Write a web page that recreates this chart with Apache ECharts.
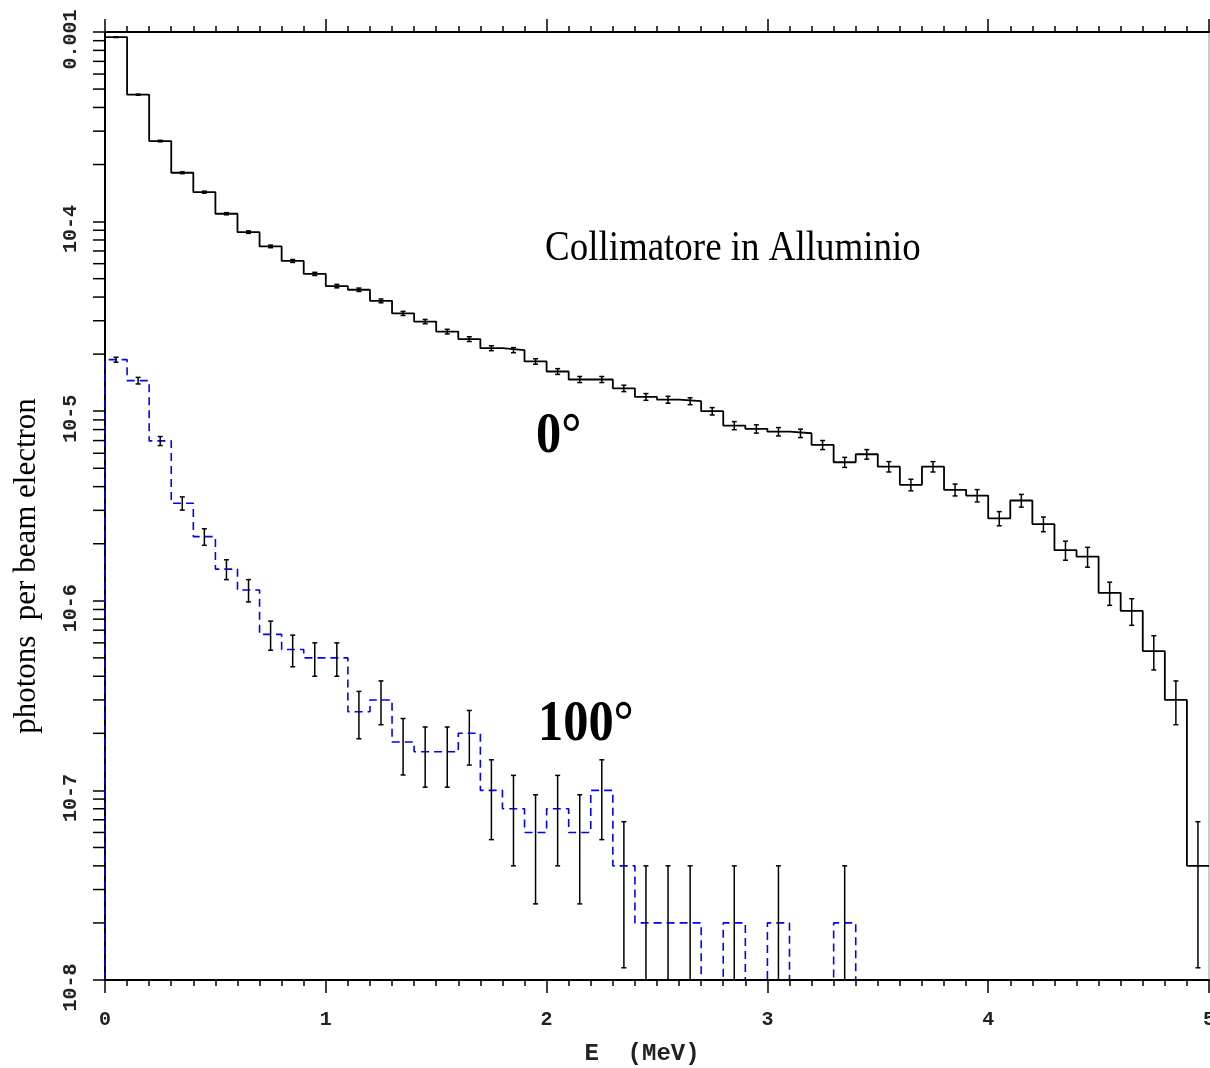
<!DOCTYPE html>
<html><head><meta charset="utf-8">
<script src="https://cdn.jsdelivr.net/npm/echarts@6/dist/echarts.min.js"></script>
<style>html,body{margin:0;padding:0;background:#fff}#c{width:1210px;height:1068px}</style>
</head><body><div id="c"></div>
<script>
// Energy bin centres (MeV), bin width 0.1 MeV
const binCenters = [0.05,0.15,0.25,0.35,0.45,0.55,0.65,0.75,0.85,0.95,
  1.05,1.15,1.25,1.35,1.45,1.55,1.65,1.75,1.85,1.95,
  2.05,2.15,2.25,2.35,2.45,2.55,2.65,2.75,2.85,2.95,
  3.05,3.15,3.25,3.35,3.45,3.55,3.65,3.75,3.85,3.95,
  4.05,4.15,4.25,4.35,4.45,4.55,4.65,4.75,4.85,4.95];
const binWidth = 0.1;

// 0 degrees (solid black histogram)
const flux0deg = [9.4e-4,4.67e-4,2.66e-4,1.81e-4,1.43e-4,1.10e-4,8.8e-5,7.4e-5,6.2e-5,5.3e-5,
  4.57e-5,4.37e-5,3.82e-5,3.28e-5,2.97e-5,2.63e-5,2.40e-5,2.15e-5,2.10e-5,1.83e-5,
  1.62e-5,1.47e-5,1.47e-5,1.32e-5,1.19e-5,1.15e-5,1.13e-5,1.00e-5,8.4e-6,8.07e-6,
  7.8e-6,7.65e-6,6.64e-6,5.38e-6,5.93e-6,5.10e-6,4.09e-6,5.10e-6,3.85e-6,3.59e-6,
  2.72e-6,3.38e-6,2.54e-6,1.85e-6,1.71e-6,1.10e-6,8.84e-7,5.43e-7,3.0e-7,4.0e-8];
const relErr0deg = [0.005,0.007,0.009,0.011,0.012,0.013,0.015,0.016,0.018,0.019,
  0.021,0.021,0.023,0.025,0.026,0.028,0.029,0.03,0.031,0.033,
  0.035,0.037,0.037,0.039,0.041,0.042,0.042,0.045,0.049,0.05,
  0.051,0.051,0.055,0.061,0.058,0.063,0.07,0.063,0.072,0.075,
  0.086,0.077,0.089,0.115,0.12,0.14,0.16,0.205,0.26,0.71];

// 100 degrees (dashed blue histogram), 0 = empty bin
const flux100deg = [1.87e-5,1.45e-5,6.97e-6,3.27e-6,2.18e-6,1.47e-6,1.14e-6,6.65e-7,5.54e-7,5.0e-7,
  5.0e-7,2.6e-7,3.0e-7,1.8e-7,1.6e-7,1.6e-7,2.0e-7,1.0e-7,8.0e-8,6.0e-8,
  8.0e-8,6.0e-8,1.0e-7,4.0e-8,2.0e-8,2.0e-8,2.0e-8,0,2.0e-8,0,
  2.0e-8,0,0,2.0e-8,0,0,0,0,0,0,
  0,0,0,0,0,0,0,0,0,0];
const relErr100deg = [0.03,0.04,0.055,0.08,0.1,0.12,0.135,0.175,0.19,0.2,
  0.2,0.28,0.26,0.33,0.35,0.35,0.32,0.45,0.5,0.58,
  0.5,0.58,0.45,0.71,1,1,1,0,1,0,
  1,0,0,1,0,0,0,0,0,0,
  0,0,0,0,0,0,0,0,0,0];

const xTickLabels = ['0','1','2','3','4','5'];
const yTickValues = [1e-8,1e-7,1e-6,1e-5,1e-4,1e-3];
const yTickLabels = ['10-8','10-7','10-6','10-5','10-4','0.001'];

const floorV = yTickValues[0];
function stepPoints(vals){
  const pts = [[binCenters[0]-binWidth/2, floorV]];
  vals.forEach((v,i)=>{
    const y = v > 0 ? v : floorV;
    pts.push([binCenters[i]-binWidth/2, y],[binCenters[i]+binWidth/2, y]);
  });
  return pts;
}
function errData(vals, errs){
  const out = [];
  vals.forEach((v,i)=>{ if (v > 0) out.push([binCenters[i], v, errs[i]]); });
  return out;
}
// minor ticks of the log axis (2..9 x each decade)
const yMinor = [];
for (let d = 0; d < yTickValues.length-1; d++) for (let k = 2; k <= 9; k++) yMinor.push([0, yTickValues[d]*k]);

function errRender(params, api){
  const x = api.value(0), v = api.value(1), r = api.value(2);
  const hiV = v*(1+r), loV = v*(1-r);
  const top = api.coord([x, hiV]);
  const bot = api.coord([x, loV > floorV ? loV : floorV]);
  const c = 2.5, st = {stroke:'#000', lineWidth:1.5};
  const ch = [
    {type:'line', shape:{x1:top[0],y1:top[1],x2:bot[0],y2:bot[1]}, style:st},
    {type:'line', shape:{x1:top[0]-c,y1:top[1],x2:top[0]+c,y2:top[1]}, style:st}
  ];
  if (loV > floorV) ch.push({type:'line', shape:{x1:bot[0]-c,y1:bot[1],x2:bot[0]+c,y2:bot[1]}, style:st});
  return {type:'group', children:ch};
}
function minorRender(params, api){
  const p = api.coord([api.value(0), api.value(1)]);
  return {type:'line', shape:{x1:p[0]-12,y1:p[1],x2:p[0],y2:p[1]}, style:{stroke:'#000',lineWidth:1.5}};
}

const monoLabel = {fontFamily:'Liberation Mono', fontWeight:'bold', fontSize:20, color:'#222'};

const chart = echarts.init(document.getElementById('c'), null, {renderer:'canvas'});
chart.setOption({
  animation:false,
  backgroundColor:'#fff',
  grid:{left:105, right:1, top:32, bottom:88, show:true, borderColor:'#999', borderWidth:1,
        containLabel:false, outerBoundsMode:'none'},
  xAxis:[{
    type:'value', min:0, max:5, interval:1, position:'bottom', z:10,
    axisLine:{show:true, lineStyle:{color:'#000', width:2}},
    axisTick:{show:true, length:13, lineStyle:{color:'#000', width:1.5}},
    minorTick:{show:true, splitNumber:10, length:6, lineStyle:{color:'#000', width:1.5}},
    splitLine:{show:false}, minorSplitLine:{show:false},
    axisLabel:Object.assign({margin:30, formatter:v=>xTickLabels[Math.round(v)]}, monoLabel),
    name:'E  (MeV)', nameLocation:'middle', nameGap:62,
    nameTextStyle:{fontFamily:'Liberation Mono', fontWeight:'bold', fontSize:24, color:'#222', padding:[0,30,0,0]}
  },{
    type:'value', min:0, max:5, interval:1, position:'top',
    axisLine:{show:true, lineStyle:{color:'#000', width:2}},
    axisTick:{show:true, length:13, lineStyle:{color:'#000', width:1.5}},
    minorTick:{show:true, splitNumber:10, length:6, lineStyle:{color:'#000', width:1.5}},
    splitLine:{show:false}, axisLabel:{show:false}
  }],
  yAxis:{
    type:'log', logBase:10, min:1e-8, max:1e-3,
    axisLine:{show:true, lineStyle:{color:'#000', width:2}},
    axisTick:{show:true, length:12, lineStyle:{color:'#000', width:1.5}},
    splitLine:{show:false},
    axisLabel:Object.assign({rotate:90, align:'center', verticalAlign:'bottom', margin:24, padding:[0,15,0,0],
      formatter:v=>{const i=yTickValues.findIndex(t=>Math.abs(Math.log10(t)-Math.log10(v))<1e-6); return i>=0?yTickLabels[i]:'';}}, monoLabel),
    name:'photons  per beam electron', nameLocation:'middle', nameRotate:90, nameGap:63,
    nameTextStyle:{fontFamily:'Liberation Serif', fontSize:31, color:'#000', padding:[0,120,0,0]}
  },
  graphic:[
    {type:'text', x:545, y:249, scaleX:0.88, style:{text:'Collimatore in Alluminio', font:'42px "Liberation Serif"', fill:'#000', align:'left', verticalAlign:'middle'}},
    {type:'text', x:536, y:438, scaleX:0.9, style:{text:'0°', font:'bold 56px "Liberation Serif"', fill:'#000', align:'left', verticalAlign:'middle'}},
    {type:'text', x:538, y:726, scaleX:0.9, style:{text:'100°', font:'bold 56px "Liberation Serif"', fill:'#000', align:'left', verticalAlign:'middle'}}
  ],
  series:[
    {name:'0°', type:'line', data:stepPoints(flux0deg), showSymbol:false, symbol:'none',
     lineStyle:{color:'#000', width:1.8}, z:3},
    {name:'100°', type:'line', data:stepPoints(flux100deg), showSymbol:false, symbol:'none',
     lineStyle:{color:'#0000ff', width:1.6, type:[8,5]}, z:4},
    {type:'custom', data:errData(flux0deg, relErr0deg), renderItem:errRender, z:5, clip:false},
    {type:'custom', data:errData(flux100deg, relErr100deg), renderItem:errRender, z:5, clip:false},
    {type:'custom', data:yMinor, renderItem:minorRender, z:5, clip:false}
  ]
});
</script></body></html>
